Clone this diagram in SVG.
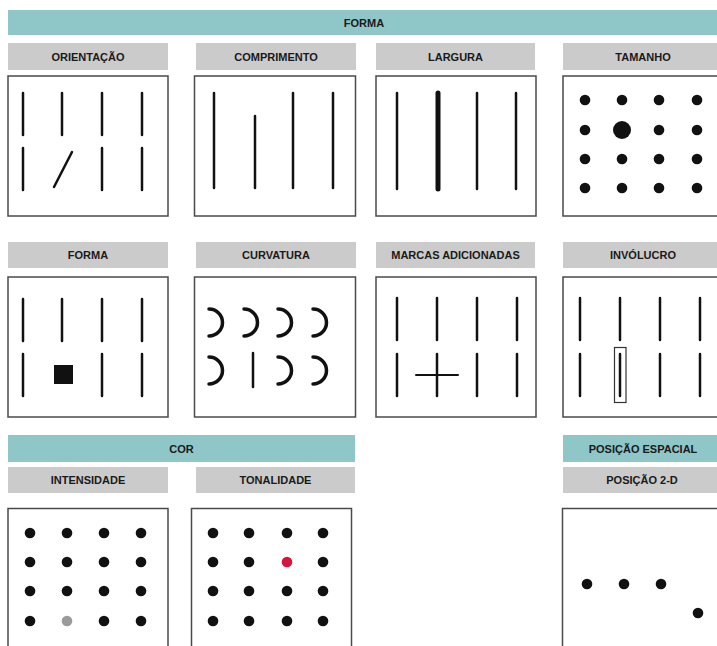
<svg xmlns="http://www.w3.org/2000/svg" width="717" height="646" viewBox="0 0 717 646">
<style>
.hdr{fill:#8fc6c7}
.sub{fill:#cbcbcb}
.lbl{font-family:"Liberation Sans",Arial,sans-serif;font-weight:bold;font-size:11px;fill:#1a1a1a;text-anchor:middle}
.box{fill:#fff;stroke:#4a4a4a;stroke-width:1.5}
.ln{stroke:#111;stroke-width:2.5;stroke-linecap:round;fill:none}
.arc{stroke:#111;stroke-width:3.5;stroke-linecap:round;fill:none}
.dot{fill:#111}
</style>
<rect width="717" height="646" fill="#fff"/>

<g id="hdr-forma">
<rect class="hdr" x="8" y="10" width="715" height="25"/>
<text class="lbl" x="364" y="26.5">FORMA</text>
</g>

<g id="orientacao">
<rect class="sub" x="8" y="43" width="160" height="27"/>
<text class="lbl" x="88" y="60.5">ORIENTAÇÃO</text>
<rect class="box" x="8" y="76" width="160" height="140"/>
<path class="ln" d="M23 93V135M62 93V135M102 93V135M142 93V135M23 148V190M102 148V190M142 148V190M54 187L72 152"/>
</g>

<g id="comprimento">
<rect class="sub" x="196" y="43" width="160" height="27"/>
<text class="lbl" x="276" y="60.5">COMPRIMENTO</text>
<rect class="box" x="194.5" y="76" width="161" height="140"/>
<path class="ln" d="M214 93V188M255 116V188M293 93V188M333 93V188"/>
</g>

<g id="largura">
<rect class="sub" x="376" y="43" width="159" height="27"/>
<text class="lbl" x="455.5" y="60.5">LARGURA</text>
<rect class="box" x="376" y="76" width="160" height="140"/>
<path class="ln" d="M397 93V189M477 93V189M516 93V189"/>
<path class="ln" style="stroke-width:5" d="M438 93V189"/>
</g>

<g id="tamanho">
<rect class="sub" x="563" y="43" width="160" height="27"/>
<text class="lbl" x="643" y="60.5">TAMANHO</text>
<rect class="box" x="563" y="76" width="165" height="140"/>
<g class="dot">
<circle cx="585" cy="100" r="5.3"/><circle cx="622" cy="100" r="5.3"/><circle cx="659" cy="100" r="5.3"/><circle cx="697" cy="100" r="5.3"/>
<circle cx="585" cy="130" r="5.3"/><circle cx="622" cy="130" r="9"/><circle cx="659" cy="130" r="5.3"/><circle cx="697" cy="130" r="5.3"/>
<circle cx="585" cy="159" r="5.3"/><circle cx="622" cy="159" r="5.3"/><circle cx="659" cy="159" r="5.3"/><circle cx="697" cy="159" r="5.3"/>
<circle cx="585" cy="188" r="5.3"/><circle cx="622" cy="188" r="5.3"/><circle cx="659" cy="188" r="5.3"/><circle cx="697" cy="188" r="5.3"/>
</g>
</g>

<g id="forma">
<rect class="sub" x="8" y="242" width="160" height="26"/>
<text class="lbl" x="88" y="259">FORMA</text>
<rect class="box" x="8" y="277" width="160" height="140"/>
<path class="ln" d="M23 299V341M62 299V341M102 299V341M142 299V341M23 354V396M102 354V396M142 354V396"/>
<rect x="54" y="365" width="19" height="19" fill="#111"/>
</g>

<g id="curvatura">
<rect class="sub" x="196" y="242" width="160" height="26"/>
<text class="lbl" x="276" y="259">CURVATURA</text>
<rect class="box" x="194.5" y="277" width="161" height="140"/>
<path class="arc" d="M209 309A13.5 13.5 0 0 1 209 336M244 309A13.5 13.5 0 0 1 244 336M278 309A13.5 13.5 0 0 1 278 336M313 309A13.5 13.5 0 0 1 313 336M209 357A13.5 13.5 0 0 1 209 384M278 357A13.5 13.5 0 0 1 278 384M313 357A13.5 13.5 0 0 1 313 384"/>
<path class="ln" d="M253 353V387"/>
</g>

<g id="marcas">
<rect class="sub" x="376" y="242" width="159" height="26"/>
<text class="lbl" x="455.5" y="259">MARCAS ADICIONADAS</text>
<rect class="box" x="376" y="277" width="160" height="140"/>
<path class="ln" d="M397 298V340M437 298V340M477 298V340M517 298V340M397 354V396M437 354V396M477 354V396M517 354V396"/>
<path class="ln" style="stroke-width:2" d="M416 375H458"/>
</g>

<g id="involucro">
<rect class="sub" x="563" y="242" width="160" height="26"/>
<text class="lbl" x="643" y="259">INVÓLUCRO</text>
<rect class="box" x="563" y="277" width="165" height="140"/>
<path class="ln" d="M580 298V340M620 298V340M660 298V340M700 298V340M580 354V396M620 354V396M660 354V396M700 354V396"/>
<rect x="614.5" y="347.5" width="11.5" height="55" fill="none" stroke="#333" stroke-width="1.2"/>
</g>

<g id="hdr-cor">
<rect class="hdr" x="8" y="435" width="347" height="27"/>
<text class="lbl" x="181.5" y="452.5">COR</text>
</g>

<g id="intensidade">
<rect class="sub" x="8" y="467" width="160" height="26"/>
<text class="lbl" x="88" y="484">INTENSIDADE</text>
<rect class="box" x="8" y="508.5" width="160" height="145"/>
<g class="dot">
<circle cx="30" cy="533" r="5.3"/><circle cx="67" cy="533" r="5.3"/><circle cx="104" cy="533" r="5.3"/><circle cx="141" cy="533" r="5.3"/>
<circle cx="30" cy="562" r="5.3"/><circle cx="67" cy="562" r="5.3"/><circle cx="104" cy="562" r="5.3"/><circle cx="141" cy="562" r="5.3"/>
<circle cx="30" cy="591" r="5.3"/><circle cx="67" cy="591" r="5.3"/><circle cx="104" cy="591" r="5.3"/><circle cx="141" cy="591" r="5.3"/>
<circle cx="30" cy="621" r="5.3"/><circle cx="104" cy="621" r="5.3"/><circle cx="141" cy="621" r="5.3"/>
</g>
<circle cx="67" cy="621" r="5.3" fill="#9a9a9a"/>
</g>

<g id="tonalidade">
<rect class="sub" x="196" y="467" width="159" height="26"/>
<text class="lbl" x="275.5" y="484">TONALIDADE</text>
<rect class="box" x="191.5" y="508.5" width="160" height="145"/>
<g class="dot">
<circle cx="213" cy="533" r="5.3"/><circle cx="249" cy="533" r="5.3"/><circle cx="287" cy="533" r="5.3"/><circle cx="323" cy="533" r="5.3"/>
<circle cx="213" cy="562" r="5.3"/><circle cx="249" cy="562" r="5.3"/><circle cx="323" cy="562" r="5.3"/>
<circle cx="213" cy="591" r="5.3"/><circle cx="249" cy="591" r="5.3"/><circle cx="287" cy="591" r="5.3"/><circle cx="323" cy="591" r="5.3"/>
<circle cx="213" cy="621" r="5.3"/><circle cx="249" cy="621" r="5.3"/><circle cx="287" cy="621" r="5.3"/><circle cx="323" cy="621" r="5.3"/>
</g>
<circle cx="287" cy="562" r="5.3" fill="#d8143c"/>
</g>

<g id="hdr-posicao">
<rect class="hdr" x="563" y="435" width="160" height="27"/>
<text class="lbl" x="643" y="452.5">POSIÇÃO ESPACIAL</text>
</g>

<g id="posicao2d">
<rect class="sub" x="563" y="467" width="160" height="26"/>
<text class="lbl" x="642" y="484">POSIÇÃO 2-D</text>
<rect class="box" x="562.5" y="508.5" width="165" height="145"/>
<g class="dot">
<circle cx="587" cy="584" r="5.3"/><circle cx="624" cy="584" r="5.3"/><circle cx="661" cy="584" r="5.3"/><circle cx="698" cy="613" r="5.3"/>
</g>
</g>
</svg>
